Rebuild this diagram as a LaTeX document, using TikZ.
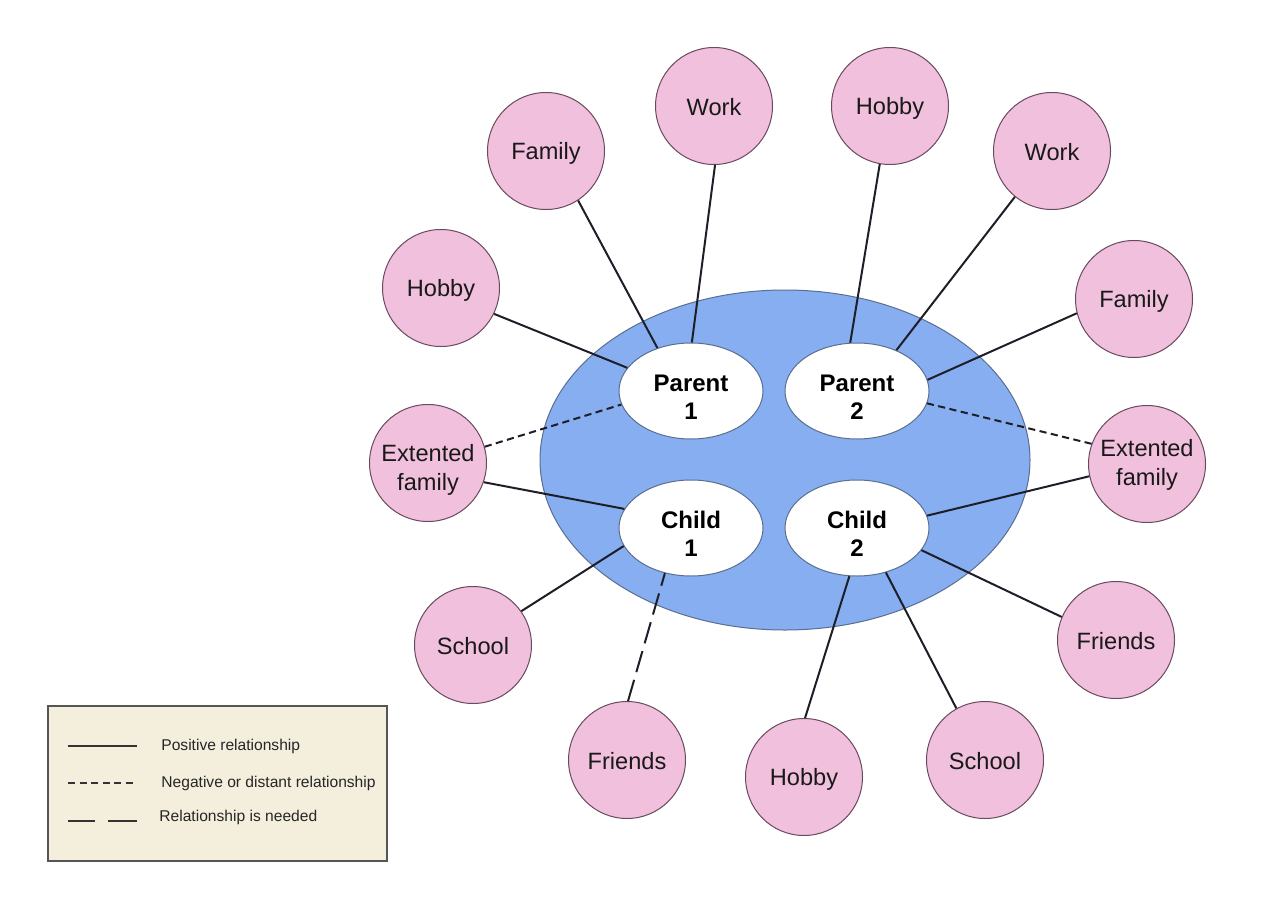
\documentclass[tikz,border=0pt]{standalone}
\usepackage{fontspec}
\setmainfont{Liberation Sans}
\usetikzlibrary{shapes.geometric}
\definecolor{pinkfill}{HTML}{F0C0DC}
\definecolor{pinkline}{HTML}{6A4A5E}
\definecolor{bluefill}{HTML}{86AEF0}
\definecolor{blueline}{HTML}{5A6E90}
\definecolor{linkcol}{HTML}{1E1E28}
\definecolor{legfill}{HTML}{F4EEDD}
\definecolor{legline}{HTML}{555555}
\begin{document}
\begin{tikzpicture}[x=0.5pt,y=-0.5pt,
  bubble/.style={circle,draw=pinkline,line width=0.5pt,fill=pinkfill,minimum size=58.5pt,inner sep=0pt,
    font=\fontsize{11.8pt}{14pt}\selectfont,text=black!90,align=center},
  bubbletext/.style={inner sep=0pt,font=\fontsize{11.8pt}{14.5pt}\selectfont,text=black!90,align=center},
  member/.style={ellipse,draw=blueline,line width=0.5pt,fill=white,minimum width=72pt,minimum height=48pt,inner sep=0pt},
  membertext/.style={inner sep=0pt,font=\fontsize{12pt}{14pt}\selectfont\bfseries,align=center},
  poslink/.style={draw=linkcol,line width=1pt},
  neglink/.style={draw=linkcol,line width=1pt,dash pattern=on 3.6pt off 2.2pt},
  needlink/.style={draw=linkcol,line width=1pt,dash pattern=on 11pt off 4pt},
  legtext/.style={anchor=west,font=\fontsize{7.8pt}{9pt}\selectfont,text=black!85,inner sep=0pt}]
\useasboundingbox (0,0) rectangle (1268,915);
% family ellipse
\node[ellipse,draw=blueline,line width=0.5pt,fill=bluefill,minimum width=245pt,minimum height=170pt,inner sep=0pt] (fam) at (785,460) {};
% members
\node[member] (p1) at (691,391) {};
\node[member] (p2) at (857,391) {};
\node[member] (c1) at (691,528) {};
\node[member] (c2) at (857,528) {};
\node[membertext] (p1t) at (691,397) {Parent\\1};
\node[membertext] (p2t) at (857,397) {Parent\\2};
\node[membertext] (c1t) at (691,534) {Child\\1};
\node[membertext] (c2t) at (857,534) {Child\\2};
% bubbles
\node[bubble] (hob1) at (441,288) {};
\node[bubble] (fam1) at (546,151) {};
\node[bubble] (wor1) at (714,106) {};
\node[bubble] (hob2) at (890,106) {};
\node[bubble] (wor2) at (1052,151) {};
\node[bubble] (fam2) at (1134,299) {};
\node[bubble] (ext2) at (1147,464) {};
\node[bubble] (fri2) at (1116,640) {};
\node[bubble] (sch2) at (985,760) {};
\node[bubble] (hob3) at (804,777) {};
\node[bubble] (fri1) at (627,760) {};
\node[bubble] (sch1) at (473,645) {};
\node[bubble] (ext1) at (428,463) {};
\node[bubbletext] (hob1t) at (441,290) {Hobby};
\node[bubbletext] (fam1t) at (546,153) {Family};
\node[bubbletext] (wor1t) at (714,107) {Work};
\node[bubbletext] (hob2t) at (890,108) {Hobby};
\node[bubbletext] (wor2t) at (1052,152) {Work};
\node[bubbletext] (fam2t) at (1134,301) {Family};
\node[bubbletext] (ext2t) at (1147,465) {Extented\\family};
\node[bubbletext] (fri2t) at (1116,641) {Friends};
\node[bubbletext] (sch2t) at (985,761) {School};
\node[bubbletext] (hob3t) at (804,779) {Hobby};
\node[bubbletext] (fri1t) at (627,761) {Friends};
\node[bubbletext] (sch1t) at (473,646) {School};
\node[bubbletext] (ext1t) at (428,470) {Extented\\family};
% connectors
\draw[poslink] (hob1.-26) -- (p1.160);
\draw[poslink] (fam1.-57) -- (p1.128);
\draw[poslink] (wor1.-89) -- (p1.89);
\draw[neglink] (ext1.16) -- (p1.191);
\draw[poslink] (hob2.-100) -- (p2.98);
\draw[poslink] (wor2.-129) -- (p2.46);
\draw[poslink] (fam2.194) -- (p2.9);
\draw[neglink] (ext2.160) -- (p2.-10);
\draw[poslink] (ext1.-19) -- (c1.164);
\draw[poslink] (sch1.35) -- (c1.195);
\draw[needlink] (fri1.89) -- (c1.240);
\draw[poslink] (ext2.192) -- (c2.10);
\draw[poslink] (fri2.157) -- (c2.-19);
\draw[poslink] (sch2.119) -- (c2.-57);
\draw[poslink] (hob3.89) -- (c2.-99);
% legend
\node[draw=legline,line width=0.6pt,fill=legfill,minimum width=169.5pt,minimum height=77.5pt,inner sep=0pt] (leg) at (217.5,783.5) {};
\coordinate (la1) at (68,746); \coordinate (lb1) at (137,746);
\coordinate (la2) at (68,783); \coordinate (lb2) at (137,783);
\coordinate (la3) at (68,821); \coordinate (lm3) at (95,821);
\coordinate (ln3) at (108,821); \coordinate (lb3) at (137,821);
\draw[draw=black!80,line width=1.1pt] (la1) -- (lb1);
\draw[draw=black!80,line width=1.1pt,dash pattern=on 3.5pt off 2.3pt] (la2) -- (lb2);
\draw[draw=black!80,line width=1.1pt] (la3) -- (lm3) (ln3) -- (lb3);
\node[legtext] (lt1) at (161,746) {Positive relationship};
\node[legtext] (lt2) at (161,783) {Negative or distant relationship};
\node[legtext] (lt3) at (159,817) {Relationship is needed};
\end{tikzpicture}
\end{document}
